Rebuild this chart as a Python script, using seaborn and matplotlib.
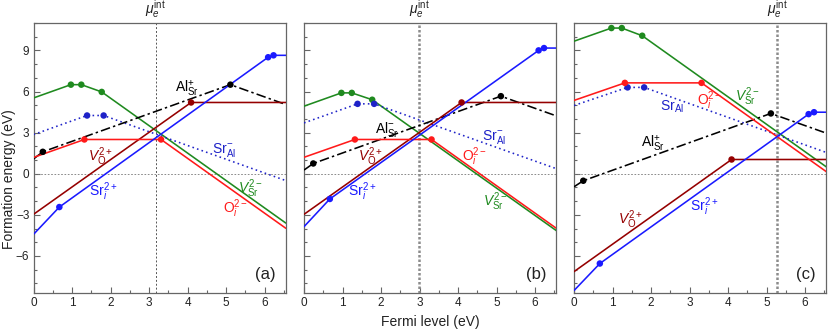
import numpy as np
import pandas as pd
import matplotlib
matplotlib.use('Agg')
import matplotlib.pyplot as plt
import matplotlib.transforms as mtransforms
from matplotlib.ticker import MultipleLocator
import seaborn as sns

# transition levels (eV), shared by all three panels
vsr_x = [0, 0.97, 1.24, 1.77, 6.55]
oi_x = [0, 1.32, 3.31, 6.55]
vo_x = [0, 4.09, 6.55]
sri_x = [0, 0.67, 6.09, 6.23, 6.55]
sral_x = [0, 1.39, 1.82, 6.55]
alsr_x = [0, 0.24, 5.11, 6.55]

# formation energies at those points, panels (a), (b), (c)
vsr_y = [[5.53, 6.5, 6.5, 5.97, -3.6],
         [4.93, 5.9, 5.9, 5.4, -4.15],
         [9.67, 10.63, 10.63, 10.07, 0.5]]
oi_y = [[1.19, 2.5, 2.5, -3.98],
        [1.2, 2.5, 2.5, -3.98],
        [5.35, 6.63, 6.63, 0.15]]
vo_y = [[-2.96, 5.2, 5.2],
        [-2.96, 5.2, 5.2],
        [-7.14, 1.04, 1.04]]
sri_y = [[-4.42, -2.43, 8.5, 8.64, 8.64],
         [-3.86, -1.84, 9.0, 9.17, 9.17],
         [-8.52, -6.55, 4.35, 4.49, 4.49]]
sral_y = [[2.86, 4.25, 4.25, -0.5],
          [3.71, 5.1, 5.1, 0.37],
          [4.98, 6.3, 6.3, 1.55]]
alsr_y = [[1.08, 1.6, 6.5, 5.05],
          [0.27, 0.75, 5.66, 4.22],
          [-0.95, -0.51, 4.4, 2.96]]

mu_int = [3.17, 2.99, 5.27]
panel_tags = ['(a)', '(b)', '(c)']

sns.set_theme(style='ticks')
plt.rcParams['font.family'] = ['Liberation Sans', 'DejaVu Sans']
plt.rcParams['mathtext.fontset'] = 'custom'
plt.rcParams['mathtext.rm'] = 'Liberation Sans'
plt.rcParams['mathtext.it'] = 'Liberation Sans:italic'
plt.rcParams['mathtext.bf'] = 'Liberation Sans:bold'

GREEN = '#1f8a1f'
RED = '#ff1a1a'
DRED = '#950000'
BLUE = '#1a1aff'
NAVY = '#1e22c8'

series = [
    ('vsr', vsr_x, vsr_y, GREEN, '-'),
    ('sral', sral_x, sral_y, NAVY, (0, (1, 2))),
    ('alsr', alsr_x, alsr_y, 'black', (0, (6, 2, 1.5, 2))),
    ('vo', vo_x, vo_y, DRED, '-'),
    ('oi', oi_x, oi_y, RED, '-'),
    ('sri', sri_x, sri_y, BLUE, '-'),
]

# (text, x, y, color) per panel
labels = [
    [(r'Al$_{\rm Sr}^{+}$', 3.66, 6.2, 'black'),
     (r'$V_{\rm O}^{2+}$', 1.42, 1.21, DRED),
     (r'Sr$_i^{2+}$', 1.45, -1.31, BLUE),
     (r'Sr$_{\rm Al}^{-}$', 4.63, 1.72, NAVY),
     (r'$V_{\rm Sr}^{2-}$', 5.3, -1.06, GREEN),
     (r'O$_i^{2-}$', 4.93, -2.52, RED)],
    [(r'Al$_{\rm Sr}^{-}$', 1.83, 3.25, 'black'),
     (r'Sr$_{\rm Al}^{-}$', 4.62, 2.67, NAVY),
     (r'$V_{\rm O}^{2+}$', 1.39, 1.21, DRED),
     (r'O$_i^{2-}$', 4.1, 1.21, RED),
     (r'Sr$_i^{2+}$', 1.13, -1.31, BLUE),
     (r'$V_{\rm Sr}^{2-}$', 4.65, -2.04, GREEN)],
    [(r'$V_{\rm Sr}^{2-}$', 4.18, 5.6, GREEN),
     (r'O$_i^{2-}$', 3.18, 5.36, RED),
     (r'Sr$_{\rm Al}$', 2.22, 4.88, NAVY),
     (r'Al$_{\rm Sr}^{+}$', 1.75, 2.16, 'black'),
     (r'$V_{\rm O}^{2+}$', 1.13, -3.37, DRED),
     (r'Sr$_i^{2+}$', 3.01, -2.4, BLUE)],
]

fig = plt.figure(figsize=(8.3, 3.35), dpi=100)
lefts = [0.0404, 0.3663, 0.6916]
axes = [fig.add_axes([l, 0.1254, 0.304, 0.806]) for l in lefts]

for k, ax in enumerate(axes):
    ax.axhline(0, color='#777777', lw=0.6, linestyle=(0, (2, 2)), zorder=1)
    if k == 0:
        ax.axvline(mu_int[k], color='#555555', lw=0.7, linestyle=(0, (2, 2)), zorder=1)
    else:
        ax.axvline(mu_int[k], color='#8c8c8c', lw=1.8, linestyle=(0, (1, 0.8)), zorder=1)

    for name, xs, ys, col, ls in series:
        df = pd.DataFrame({'x': xs, 'y': ys[k]})
        sns.lineplot(data=df, x='x', y='y', ax=ax, color=col, lw=1.15,
                     sort=False, estimator=None, linestyle=ls, zorder=3)
        inner = df.iloc[1:-1]
        sns.scatterplot(data=inner, x='x', y='y', ax=ax, color=col, s=22,
                        edgecolor='none', zorder=4)

    for txt, tx, ty, col in labels[k]:
        ax.text(tx, ty, txt, color=col, fontsize=10, ha='left', va='center', zorder=5)

    ax.text(6.02, -7.37, panel_tags[k], fontsize=12, ha='center', va='center', color='#222222')

    trans = mtransforms.blended_transform_factory(ax.transData, ax.transAxes)
    ax.text(mu_int[k], 1.01, r'$\mu_e^{\rm int}$', transform=trans, ha='center', va='bottom',
            fontsize=10, color='#222222')

    ax.set_xlim(0, 6.55)
    ax.set_ylim(-8.7, 11)
    ax.set_xticks(range(0, 7))
    ax.set_yticks([-6, -3, 0, 3, 6, 9])
    ax.xaxis.set_minor_locator(MultipleLocator(0.5))
    ax.yaxis.set_minor_locator(MultipleLocator(1))
    ax.tick_params(which='both', direction='in', color='#666666', labelsize=8.5,
                   labelcolor='#222222', width=0.8)
    ax.tick_params(which='major', length=4, pad=3)
    ax.tick_params(which='minor', length=2)
    ax.set_xlabel('')
    ax.set_ylabel('')
    if k > 0:
        ax.set_yticklabels([])
    for sp in ax.spines.values():
        sp.set_color('#666666')
        sp.set_linewidth(0.9)

fig.text(0.011, 0.466, 'Formation energy (eV)', rotation=90, ha='center', va='center',
         fontsize=10, color='#222222')
fig.text(0.518, 0.038, 'Fermi level (eV)', ha='center', va='center', fontsize=10, color='#222222')

fig.savefig('out.png', dpi=100)
